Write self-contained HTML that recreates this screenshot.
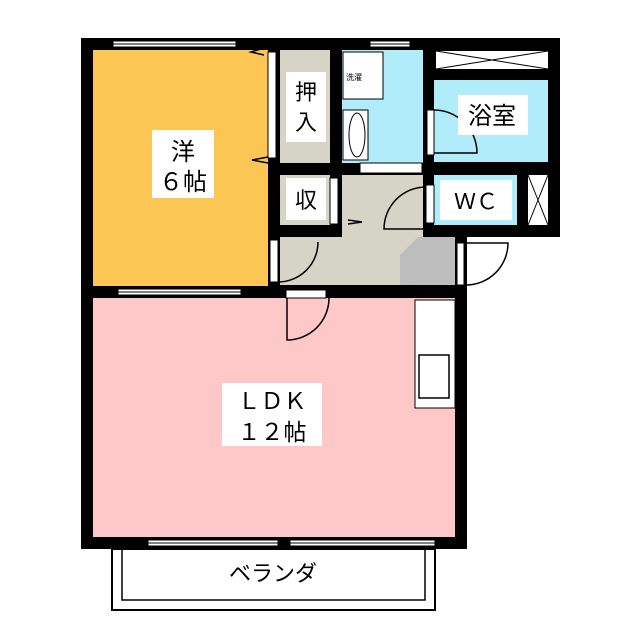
<!DOCTYPE html>
<html><head><meta charset="utf-8"><style>
html,body{margin:0;padding:0;background:#fff;width:640px;height:640px;overflow:hidden}
text{font-family:"Liberation Sans","Noto Sans CJK JP",sans-serif;fill:#000}
</style></head><body>
<svg width="640" height="640" viewBox="0 0 640 640" xmlns="http://www.w3.org/2000/svg">
<rect x="112" y="549" width="323" height="61" fill="#fff" stroke="#000" stroke-width="2"/>
<path d="M122 549 V600 H425 V549" fill="none" stroke="#000" stroke-width="1.5"/>
<rect x="81" y="38" width="479" height="199" fill="#000"/>
<rect x="81" y="230" width="386" height="319" fill="#000"/>
<rect x="93" y="50" width="175" height="236" fill="#fbc653"/>
<rect x="93" y="298" width="362" height="239" fill="#fec8c8"/>
<rect x="280" y="50" width="50" height="113" fill="#d6d3c7"/>
<rect x="342" y="50" width="81" height="113" fill="#b1ecfa"/>
<rect x="434" y="80" width="114" height="82" fill="#b1ecfa"/>
<rect x="436" y="51" width="112" height="18" fill="#fff"/>
<path d="M436 51 L548 69 M548 51 L436 69" stroke="#000" stroke-width="1"/>
<rect x="280" y="175" width="175" height="110" fill="#d6d3c7"/>
<rect x="330" y="175" width="12" height="50" fill="#000"/>
<rect x="280" y="225" width="62" height="12" fill="#000"/>
<rect x="280" y="175" width="50" height="50" fill="#d6d3c7"/>
<rect x="423" y="163" width="137" height="74" fill="#000"/>
<rect x="434" y="175" width="83" height="50" fill="#b1ecfa"/>
<rect x="528" y="175" width="20" height="50" fill="#fff"/>
<path d="M528 175 L548 225 M548 175 L528 225" stroke="#000" stroke-width="1"/>
<polygon points="418,237 455,237 455,285 400,285 400,255" fill="#bdbdbd"/>
<g fill="#fff" stroke="#000" stroke-width="1">
<rect x="113" y="41" width="123" height="6"/><rect x="118" y="289" width="123" height="6"/>
<rect x="370" y="41" width="40" height="6"/><rect x="148" y="540" width="130" height="6"/>
<rect x="290" y="540" width="145" height="6"/>
</g>
<g stroke="#000" stroke-width="1">
<line x1="113" y1="44" x2="236" y2="44"/><line x1="118" y1="292" x2="241" y2="292"/>
<line x1="370" y1="44" x2="410" y2="44"/><line x1="148" y1="543" x2="278" y2="543"/>
<line x1="290" y1="543" x2="435" y2="543"/>
</g>
<g fill="#fff" stroke="#000" stroke-width="1">
<rect x="268" y="52" width="8" height="106"/>
<rect x="330" y="178" width="8" height="46"/>
<rect x="270" y="240" width="8" height="42"/>
<rect x="427" y="110" width="7" height="45"/>
<rect x="426" y="185" width="8" height="38"/>
<rect x="457" y="243" width="7" height="42"/>
<rect x="286" y="290" width="40" height="8"/>
<rect x="360" y="163" width="62" height="10"/>
<rect x="343" y="52" width="40" height="47"/>
<rect x="343" y="110" width="25" height="50"/>
<ellipse cx="357" cy="135" rx="8" ry="22"/>
</g>
<g fill="none" stroke="#000" stroke-width="1.5">
<path d="M434 110 A43 43 0 0 1 477 153 H434"/>
<path d="M426 187 A42 42 0 0 0 384 229 H426"/>
<path d="M278 282 A40 40 0 0 0 318 242"/>
<path d="M466 285 A42 42 0 0 0 508 243 H466"/>
<path d="M287 298 V340 A42 42 0 0 0 329 298"/>
<path d="M348 220 L362 222 L348 224"/>
<path d="M264 48 L251 52 L264 55"/>
<path d="M268 157 L252 160 L268 163"/>
</g>
<rect x="415" y="300" width="40" height="108" fill="#fff" stroke="#000" stroke-width="1"/>
<rect x="419" y="355" width="30" height="43" fill="#fff" stroke="#000" stroke-width="1.5"/>
<rect x="152" y="130" width="62" height="68" fill="#fff"/>
<text x="183" y="160" font-size="24" text-anchor="middle">洋</text>
<text x="183" y="190" font-size="24" text-anchor="middle">６帖</text>
<rect x="286" y="72" width="40" height="70" fill="#fff"/>
<text x="306" y="100" font-size="22" text-anchor="middle">押</text>
<text x="306" y="130" font-size="22" text-anchor="middle">入</text>
<rect x="286" y="178" width="40" height="42" fill="#fff"/>
<text x="306" y="208" font-size="22" text-anchor="middle">収</text>
<rect x="344" y="58" width="20" height="30" fill="#fff"/>
<text x="354" y="80" font-size="8" text-anchor="middle">洗濯</text>
<rect x="458" y="95" width="70" height="40" fill="#fff"/>
<text x="492" y="124" font-size="24" text-anchor="middle">浴室</text>
<rect x="440" y="180" width="72" height="40" fill="#fff"/>
<text x="476" y="209" font-size="22" text-anchor="middle">ＷＣ</text>
<rect x="222" y="383" width="100" height="63" fill="#fff"/>
<text x="272" y="409" font-size="23" text-anchor="middle">ＬＤＫ</text>
<text x="272" y="440" font-size="23" text-anchor="middle">１２帖</text>
<text x="273" y="581" font-size="22" text-anchor="middle">ベランダ</text>
</svg>
</body></html>
